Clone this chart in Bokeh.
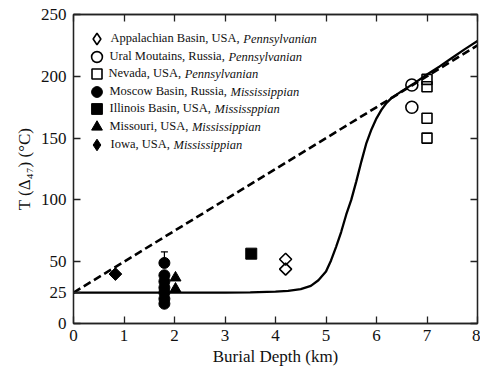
import math
from bokeh.plotting import figure
from bokeh.models import (Range1d, LinearAxis, FixedTicker, Label, Legend, LegendItem,
                          Whisker, TeeHead, ColumnDataSource)
from bokeh.embed import file_html
from bokeh.resources import INLINE

# ---------------- data ----------------
x_ticks = [0, 1, 2, 3, 4, 5, 6, 7, 8]
y_ticks = [0, 25, 50, 100, 150, 200, 250]
y_ticks_frame = [0, 50, 100, 150, 200, 250]

appalachian_depth = [4.2, 4.2]
appalachian_T = [52, 44]
ural_depth = [6.7, 6.7]
ural_T = [193, 175]
nevada_depth = [7.0, 7.0, 7.0, 7.0]
nevada_T = [197.5, 191.5, 166, 150]
moscow_depth = [1.8, 1.8, 1.8, 1.8, 1.8, 1.8, 1.8]
moscow_T = [49, 39, 34, 29, 25, 20, 16]
moscow_err_depth = [1.8]
moscow_err_low = [49]
moscow_err_high = [58]
illinois_depth = [3.52]
illinois_T = [56.5]
missouri_depth = [2.02, 2.02]
missouri_T = [37, 28]
iowa_depth = [0.83]
iowa_T = [40]

model_depth = [0, 1, 2, 3, 3.5, 4.0, 4.25, 4.5, 4.7, 4.85, 5.0, 5.1, 5.2, 5.3, 5.4, 5.5,
               5.6, 5.7, 5.8, 5.9, 6.0, 6.1, 6.2, 6.3, 6.5, 6.75, 7.0, 7.25, 7.5, 7.75, 8.0]
model_T = [25, 25, 25, 25, 25.2, 25.8, 26.4, 27.8, 30.5, 35, 42, 51, 62, 74, 88, 100,
           115, 131, 146, 157, 166, 173, 178.5, 182.5, 188, 194.5, 201.5, 208, 215, 222, 228.5]

gradient_depth = [0, 8]
gradient_T = [25, 225]

legend_names = ["Appalachian Basin, USA,", "Ural Moutains, Russia,", "Nevada, USA,",
                "Moscow Basin, Russia,", "Illinois Basin, USA,", "Missouri, USA,", "Iowa, USA,"]
legend_periods = ["Pennsylvanian", "Pennsylvanian", "Pennsylvanian",
                  "Mississippian", "Mississppian", "Mississippian", "Mississippian"]

# ---------------- layout ----------------
W, H = 480, 370
BL, BR, BT, BB = 73, 3, 14, 47
FW, FH = W - BL - BR, H - BT - BB
SERIF = "Liberation Serif"
INK = "#111111"

p = figure(width=W, height=H, output_backend="svg", toolbar_location=None,
           x_range=Range1d(0, 8), y_range=Range1d(0, 250),
           min_border_left=BL, min_border_right=BR, min_border_top=BT, min_border_bottom=BB,
           x_axis_location=None, y_axis_location=None)
p.grid.visible = False
p.outline_line_color = "#222222"
p.outline_line_width = 1.3
p.background_fill_color = "white"
p.border_fill_color = "white"


def style_axis(ax, ticks, show_labels):
    ax.ticker = FixedTicker(ticks=ticks)
    ax.major_tick_in = 7
    ax.major_tick_out = 0
    ax.minor_tick_line_color = None
    ax.major_tick_line_color = "#222222"
    ax.major_tick_line_width = 1.3
    ax.axis_line_color = "#222222"
    ax.axis_line_width = 1.3
    ax.major_label_text_font = SERIF
    ax.major_label_text_color = INK
    ax.major_label_text_font_size = "17px"
    if not show_labels:
        ax.major_label_overrides = {t: "" for t in ticks}
        ax.major_label_standoff = 0


xb = LinearAxis()
style_axis(xb, x_ticks, True)
xb.major_label_standoff = 6
xb.axis_label = "Burial Depth (km)"
xb.axis_label_text_font = SERIF
xb.axis_label_text_font_size = "17px"
xb.axis_label_text_font_style = "normal"
xb.axis_label_text_color = INK
xb.axis_label_standoff = 3
p.add_layout(xb, "below")

yl = LinearAxis()
style_axis(yl, y_ticks, True)
yl.major_label_standoff = 7
yl.axis_label = "T (Δ₄₇) (°C)"
yl.axis_label_text_font = SERIF
yl.axis_label_text_font_size = "17px"
yl.axis_label_text_font_style = "normal"
yl.axis_label_text_color = INK
yl.axis_label_standoff = 4
p.add_layout(yl, "left")

xt = LinearAxis()
style_axis(xt, x_ticks, False)
p.add_layout(xt, "above")

yr = LinearAxis()
style_axis(yr, y_ticks_frame, False)
p.add_layout(yr, "right")

# ---------------- lines ----------------
p.line(gradient_depth, gradient_T, line_color="black", line_width=2.6, line_dash="8 4")
p.line(model_depth, model_T, line_color="black", line_width=2.3)

# ---------------- points ----------------
D = math.pi / 4
p.scatter(appalachian_depth, appalachian_T, marker="square", angle=D, size=8.5,
          fill_color=None, line_color="black", line_width=1.6)
r_ural = p.scatter(ural_depth, ural_T, marker="circle", size=12,
                   fill_color=None, line_color="black", line_width=1.6)
r_nev = p.scatter(nevada_depth, nevada_T, marker="square", size=10,
                  fill_color=None, line_color="black", line_width=1.6)
p.add_layout(Whisker(source=ColumnDataSource(dict(x=moscow_err_depth, lo=moscow_err_low,
                                                  hi=moscow_err_high)),
                     base="x", lower="lo", upper="hi", line_color="black", line_width=1.2,
                     upper_head=TeeHead(size=7, line_color="black", line_width=1.2),
                     lower_head=None))
r_mos = p.scatter(moscow_depth, moscow_T, marker="circle", size=11,
                  fill_color="black", line_color="black")
r_ill = p.scatter(illinois_depth, illinois_T, marker="square", size=11,
                  fill_color="black", line_color="black")
r_mis = p.scatter(missouri_depth, missouri_T, marker="triangle", size=11,
                  fill_color="black", line_color="black")
p.scatter(iowa_depth, iowa_T, marker="square", angle=D, size=9,
          fill_color="black", line_color="black")

# legend-only diamond glyphs (legends do not rotate markers); NaN rows draw nothing on the plot
NAN = float("nan")
r_app_key = p.scatter(x=[NAN], y=[NAN], marker="diamond", fill_color=None, line_color="black",
                      line_width=1.6)
r_iowa_key = p.scatter(x=[NAN], y=[NAN], marker="diamond", fill_color="black",
                       line_color="black")

# ---------------- legend (one row per Legend, italic period as Label) ----------------
TNR = {' ': .25, ',': .25, 'A': .722, 'B': .667, 'I': .333, 'M': .889, 'N': .722, 'R': .667,
       'S': .556, 'U': .722, 'a': .444, 'c': .444, 'd': .5, 'e': .444, 'h': .5, 'i': .278,
       'l': .278, 'n': .5, 'o': .5, 'p': .5, 'r': .333, 's': .389, 't': .278, 'u': .5,
       'v': .5, 'w': .722, 'y': .5}
LFS = 12.5
row_centers = [24.3, 42.0, 59.6, 77.2, 94.8, 112.4, 130.0]
renderers = [r_app_key, r_ural, r_nev, r_mos, r_ill, r_mis, r_iowa_key]
glyph_boxes = [29, 27, 25, 27, 27, 27, 29]
KEY_X, TEXT_X = 23, 36
for name, period, r, rc, gw in zip(legend_names, legend_periods, renderers, row_centers,
                                   glyph_boxes):
    standoff = max(0, int(round(TEXT_X - KEY_X - gw / 2)))
    text_start = KEY_X + gw / 2 + standoff
    leg = Legend(items=[LegendItem(label=name, renderers=[r])],
                 location=(KEY_X - gw / 2, FH - rc - gw / 2), padding=0, margin=0, spacing=0,
                 glyph_width=gw, glyph_height=gw, label_height=gw, label_width=10,
                 label_standoff=standoff, border_line_color=None,
                 background_fill_alpha=0,
                 label_text_font=SERIF, label_text_font_size=f"{LFS}px",
                 label_text_color=INK, label_text_baseline="middle")
    p.add_layout(leg)
    wname = sum(TNR.get(c, 0.5) for c in name + " ") * LFS
    p.add_layout(Label(x=text_start + wname, y=FH - rc, x_units="screen", y_units="screen",
                       text=period, text_align="left", text_baseline="middle", text_font=SERIF,
                       text_font_style="italic", text_font_size=f"{LFS}px", text_color=INK))

open("out.html", "w").write(file_html(p, INLINE))
